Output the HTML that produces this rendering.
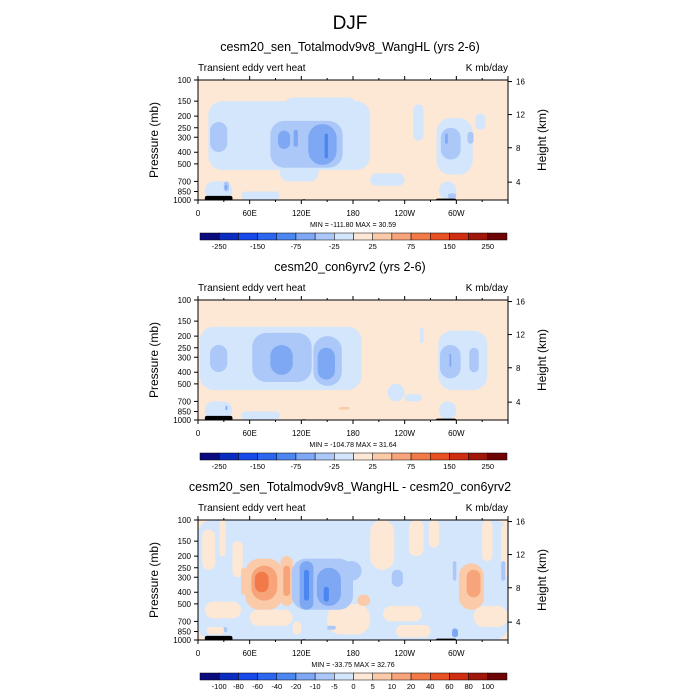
<!DOCTYPE html>
<html><head><meta charset="utf-8"><style>
body{margin:0;background:#fff}
svg{display:block;font-family:"Liberation Sans",sans-serif}
</style></head><body>
<svg id="s" width="700" height="700" viewBox="0 0 700 700">
<text x="350" y="29" font-size="19" text-anchor="middle">DJF</text>
</svg>
<script>
// ---- data ----
const panelTitles = ["cesm20_sen_Totalmodv9v8_WangHL (yrs 2-6)","cesm20_con6yrv2 (yrs 2-6)","cesm20_sen_Totalmodv9v8_WangHL - cesm20_con6yrv2"];
const minMax = ["MIN = -111.80  MAX = 30.59","MIN = -104.78  MAX = 31.64","MIN = -33.75  MAX = 32.76"];
const pressureTicks = [100,150,200,250,300,400,500,700,850,1000];
const heightTicks = [16,12,8,4];
const heightTickP = [103,194,367,710];
const lonTicks = [0,60,120,180,240,300];
const lonLabels = ["0","60E","120E","180","120W","60W"];
const cbLabelsAbs = ["-250","-150","-75","-25","25","75","150","250"];
const cbLabelsDiff = ["-100","-80","-60","-40","-20","-10","-5","0","5","10","20","40","60","80","100"];
const palette = ["#0b0b80","#0b2cc0","#1748e8","#2d66ee","#4c86f0","#7ea8f4","#acc8f8","#d4e6fb","#fde8d6","#fbcaa8","#f7a47a","#f27a48","#e85222","#d02e10","#a0160a","#6e0404"];
// blobs: [lon1, lon2, p1, p2, colourIndex]
const blobs1 = [[12,200,150,563,7],[100,185,140,200,7],[95,140,500,700,7],[200,240,600,760,7],[250,262,160,320,7],[322,334,190,260,7],[277,319,208,615,7],[8,40,700,990,7],[280,300,700,990,7],[50,95,850,990,7],
[14,34,224,398,6],[84,168,219,538,6],[282,305,250,460,6],[313,320,270,340,6],[30,36,700,850,6],[290,300,880,980,6],
[93,107,264,375,5],[111,116,260,360,5],[128,161,233,510,5],[287,290,280,340,5],[31,34,750,820,5],
[147,151,280,450,4]];
const blobs2 = [[2,190,167,562,7],[220,240,500,700,7],[240,260,610,700,7],[279,336,180,562,7],[258,262,170,230,7],[8,40,700,990,7],[280,300,700,990,7],[50,95,850,990,7],
[14,34,237,398,6],[63,132,188,482,6],[134,167,200,520,6],[281,305,237,450,6],[315,326,250,400,6],
[84,110,237,420,5],[139,159,250,460,5],[292,294,280,360,5],[32,34,760,830,5],
[164,176,780,820,9]];
const blobs3 = [[0,360,100,1000,7],[5,20,120,260,8],[25,32,100,200,8],[40,52,150,300,8],[200,228,100,260,8],[245,262,100,200,8],[268,280,100,170,8],[330,342,100,220,8],[352,360,110,300,8],
[8,50,480,660,8],[60,110,560,760,8],[150,200,500,900,8],[215,260,520,700,8],[230,270,750,950,8],[320,360,520,780,8],[10,30,780,900,8],[110,120,700,900,8],
[55,98,210,560,9],[96,110,200,520,9],[303,332,230,560,9],[185,200,420,520,9],[50,56,250,420,9],
[62,92,240,470,10],[99,107,240,430,10],[312,328,260,440,10],
[66,82,270,400,11],
[109,180,210,560,6],[165,190,220,320,6],[118,134,220,560,5],[138,166,250,520,5],[123,129,260,470,4],[146,152,360,480,4],[225,238,260,360,6],[352,357,220,320,6],[296,300,220,320,6],[295,302,800,950,5],[150,160,760,820,6],[30,34,780,860,6]];
const land = [[8,40,925],[120,126,985],[130,178,990],[276,300,975],[98,101,990]];

const svg = document.getElementById('s');
const NS = 'http://www.w3.org/2000/svg';
function el(tag, attrs, parent){const e=document.createElementNS(NS,tag);for(const k in attrs)e.setAttribute(k,attrs[k]);(parent||svg).appendChild(e);return e;}
function txt(x,y,s,size,anchor,parent){const t=el('text',{x:x,y:y,'font-size':size,'text-anchor':anchor||'middle'},parent);t.textContent=s;return t;}

const X0=198,X1=508,H=120;
const tops=[80,300,520];
tops.forEach((top,i)=>{
  const xs=lon=>X0+(lon/360)*(X1-X0);
  const ys=p=>top+H*Math.log10(p/100);
  const g=el('g',{});
  
  
  const t=txt(350,top-29,panelTitles[i],12.5,'middle',g);
  
  
  const l=txt(X0,top-9,'Transient eddy vert heat',10,'start',g);
  
  
  const r=txt(X1,top-9,'K mb/day',10,'end',g);
  
  
  el('rect',{x:X0,y:top,width:X1-X0,height:H,fill:palette[8]},g);
  const clip=el('clipPath',{id:'c'+i},g);
  el('rect',{x:X0,y:top,width:X1-X0,height:H},clip);
  const fg=el('g',{'clip-path':'url(#c'+i+')'},g);
  const bl=[blobs1,blobs2,blobs3][i];
  bl.forEach(b=>{
    const x1=xs(b[0]),x2=xs(b[1]),y1=ys(b[2]),y2=ys(b[3]);
    const rr=Math.min((x2-x1)/2,(y2-y1)/2,14);
    const rc=el('rect',{x:x1,y:y1,width:x2-x1,height:y2-y1,rx:rr,fill:palette[b[4]]},fg);
    
    
  });
  land.forEach(d=>{
    const rc=el('rect',{x:xs(d[0]),y:ys(d[2]),width:xs(d[1])-xs(d[0]),height:top+H-ys(d[2])+2,rx:2,fill:'#000'},fg);
    
    
  });
  el('rect',{x:X0,y:top,width:X1-X0,height:H,fill:'none',stroke:'#000','stroke-width':1},g);
  pressureTicks.forEach(p=>{
    const y=ys(p);
    el('line',{x1:X0-4,x2:X0,y1:y,y2:y,stroke:'#000'},g);
    const tl=txt(X0-7,y+3,String(p),8,'end',g);
    
    
  });
  heightTicks.forEach((h,k)=>{
    const y=ys(heightTickP[k]);
    el('line',{x1:X1,x2:X1+4,y1:y,y2:y,stroke:'#000'},g);
    const tl=txt(X1+8,y+3,String(h),8,'start',g);
    
    
  });
  for(let lon=0;lon<=360;lon+=30){
    const x=xs(lon),len=lon%60===0?4:2;
    el('line',{x1:x,x2:x,y1:top+H,y2:top+H+len,stroke:'#000'},g);
    el('line',{x1:x,x2:x,y1:top,y2:top-len,stroke:'#000'},g);
  }
  lonTicks.forEach((lon,k)=>{
    const tl=txt(xs(lon),top+H+16,lonLabels[k],8,'middle',g);
    
    
  });
  const ya=txt(0,0,'Pressure (mb)',12,'middle',g);
  ya.setAttribute('transform','translate(158,'+(top+H/2)+') rotate(-90)');
  
  
  const ya2=txt(0,0,'Height (km)',12,'middle',g);
  ya2.setAttribute('transform','translate(546,'+(top+H/2)+') rotate(-90)');
  
  
  const mm=txt(353,top+H+27,minMax[i],7,'middle',g);
  
  
  const cbY=top+H+33, bw=(507-200)/16;
  const cb=el('g',{},g);
  
  
  palette.forEach((c,k)=>{
    el('rect',{x:200+k*bw,y:cbY,width:bw,height:7,fill:c,stroke:'#000','stroke-width':0.5},cb);
  });
  if(i<2){
    cbLabelsAbs.forEach((s,k)=>{
      const tl=txt(200+(2*k+1)*bw,cbY+16,s,7.5,'middle',cb);
      
      
    });
  } else {
    cbLabelsDiff.forEach((s,k)=>{
      const tl=txt(200+(k+1)*bw,cbY+16,s,7.5,'middle',cb);
      
      
    });
  }
});
</script>
</body></html>
